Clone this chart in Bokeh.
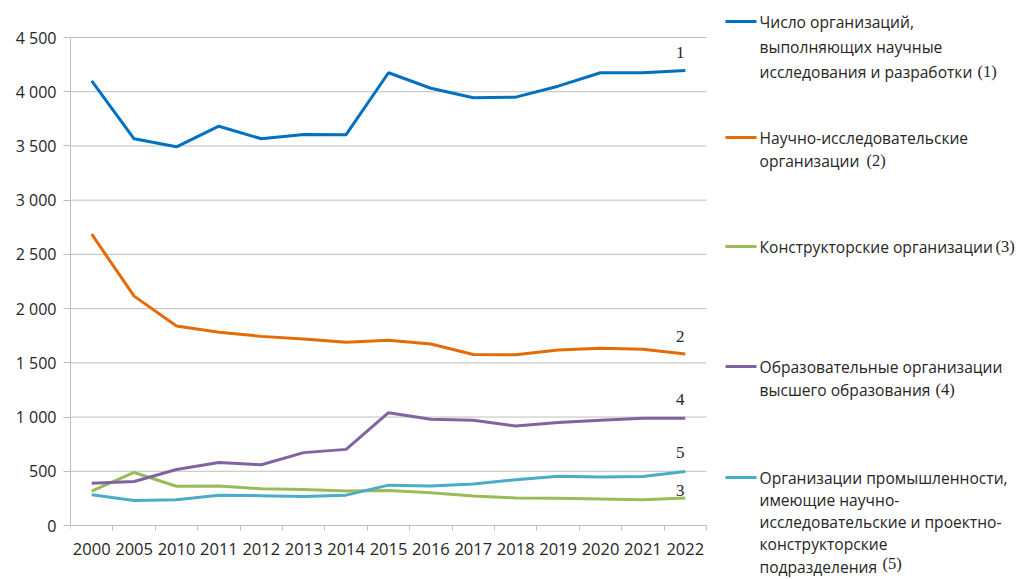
from bokeh.plotting import figure
from bokeh.models import Range1d, FixedTicker, ColumnDataSource
from bokeh.core.properties import value
from bokeh.embed import file_html
from bokeh.resources import INLINE

years = ["2000", "2005", "2010", "2011", "2012", "2013", "2014", "2015",
         "2016", "2017", "2018", "2019", "2020", "2021", "2022"]
total = [4099, 3566, 3492, 3682, 3566, 3605, 3604, 4175, 4032, 3944, 3950, 4051, 4175, 4175, 4195]
research = [2686, 2115, 1840, 1782, 1744, 1719, 1689, 1708, 1673, 1577, 1574, 1618, 1634, 1626, 1582]
design = [318, 489, 362, 364, 338, 331, 317, 322, 303, 273, 254, 251, 245, 237, 253]
higher_ed = [390, 406, 517, 581, 560, 672, 702, 1040, 979, 970, 917, 950, 971, 989, 990]
industry = [284, 231, 238, 279, 275, 268, 280, 372, 364, 382, 422, 455, 448, 451, 497]

series = [total, research, design, higher_ed, industry]
colors = ["#0070C0", "#E36C09", "#9BBB59", "#8064A2", "#4BACC6"]
end_labels = ["1", "2", "3", "4", "5"]
legend_lines = [
    ["Число организаций,", "выполняющих научные", "исследования и разработки"],
    ["Научно-исследовательские", "организации"],
    ["Конструкторские организации"],
    ["Образовательные организации", "высшего образования"],
    ["Организации промышленности,", "имеющие научно-", "исследовательские и проектно-",
     "конструкторские", "подразделения"],
]
legend_marks = ["(1)", "(2)", "(3)", "(4)", "(5)"]
y_ticks = [0, 500, 1000, 1500, 2000, 2500, 3000, 3500, 4000, 4500]

SANS = "Open Sans"
SERIF = "Liberation Serif"
TXT = "#262626"
GRID = "#BFBFBF"

# page-pixel layout
W, H = 1024, 578
PL, PR, PT, PB = 70, 706, 37, 525   # plot area (axes box) in page pixels
N = len(years)
YMAX = 4500
sx = (PR - PL) / N          # px per category
sy = (PB - PT) / YMAX       # px per unit

# frame covers the whole canvas to the right of the y axis
x_end = (W - PL) / sx
y_start = -(H - PB) / sy
y_end = YMAX + PT / sy

def dxp(px):
    return (px - PL) / sx

def dyp(py):
    return (PB - py) / sy

xs = [i + 0.5 for i in range(N)]

p = figure(width=W, height=H, output_backend="svg", toolbar_location=None,
           x_range=Range1d(0, x_end), y_range=Range1d(y_start, y_end),
           min_border_left=PL, min_border_right=0, min_border_top=0,
           min_border_bottom=0)
p.outline_line_color = None
p.xgrid.visible = False
p.ygrid.visible = False

# horizontal gridlines limited to the plot area
p.segment(x0=[0] * len(y_ticks), x1=[N] * len(y_ticks), y0=y_ticks, y1=y_ticks,
          line_color=GRID, line_width=1)

p.yaxis.bounds = (0, YMAX)
p.yaxis.ticker = FixedTicker(ticks=y_ticks)
p.yaxis.major_label_overrides = {t: (f"{t:,}".replace(",", " ")) for t in y_ticks}
p.yaxis.axis_line_color = GRID
p.yaxis.major_tick_line_color = GRID
p.yaxis.major_tick_out = 7
p.yaxis.major_tick_in = 0
p.yaxis.minor_tick_line_color = None
p.yaxis.major_label_standoff = 7
p.yaxis.major_label_text_font = SANS
p.yaxis.major_label_text_font_size = "16px"
p.yaxis.major_label_text_color = TXT

p.xaxis.fixed_location = 0
p.xaxis.bounds = (0, N)
p.xaxis.ticker = FixedTicker(ticks=xs, minor_ticks=list(range(N + 1)))
p.xaxis.major_label_overrides = {x: y for x, y in zip(xs, years)}
p.xaxis.axis_line_color = GRID
p.xaxis.major_tick_line_color = None
p.xaxis.major_tick_out = 5
p.xaxis.major_tick_in = 0
p.xaxis.minor_tick_line_color = GRID
p.xaxis.minor_tick_out = 5
p.xaxis.minor_tick_in = 0
p.xaxis.major_label_standoff = 12
p.xaxis.major_label_text_font = SANS
p.xaxis.major_label_text_font_size = "16.5px"
p.xaxis.major_label_text_color = TXT

for vals, c in zip(series, colors):
    p.line(xs, vals, line_color=c, line_width=3)

lab_src = ColumnDataSource(dict(
    x=[xs[-1]] * 5,
    y=[s[-1] for s in series],
    t=end_labels,
    dy=[-18, -17, -8, -19, -19],
))
p.text(x="x", y="y", text="t", y_offset="dy", x_offset=-5, source=lab_src,
       text_align="center", text_baseline="middle",
       text_font=value(SERIF), text_font_size="17px", text_color=TXT)

# legend on the right
entry_top = [21, 137, 246, 366, 477]
line_step = [25, 23, 24, 23, 22.25]
mark_x = [977, 866, 995, 935, 882]
mark_dy = [0, 0, 0, 0, -3]

seg_y, tx, ty, tt, mx, my = [], [], [], [], [], []
for lines, top, step, mxv, mdy in zip(legend_lines, entry_top, line_step, mark_x, mark_dy):
    seg_y.append(dyp(top))
    for j, ln in enumerate(lines):
        tx.append(dxp(759))
        ty.append(dyp(top + j * step))
        tt.append(ln)
    mx.append(dxp(mxv))
    my.append(dyp(top + (len(lines) - 1) * step + mdy))

p.segment(x0=[dxp(725)] * 5, x1=[dxp(756)] * 5, y0=seg_y, y1=seg_y,
          line_color=colors, line_width=3)
p.text(x=tx, y=ty, text=tt, text_align="left", text_baseline="middle",
       text_font=value(SANS), text_font_size="15.6px", text_color=TXT)
p.text(x=mx, y=my, text=legend_marks, text_align="left", text_baseline="middle",
       text_font=value(SERIF), text_font_size="16.5px", text_color=TXT)

open("out.html", "w").write(file_html(p, INLINE))
